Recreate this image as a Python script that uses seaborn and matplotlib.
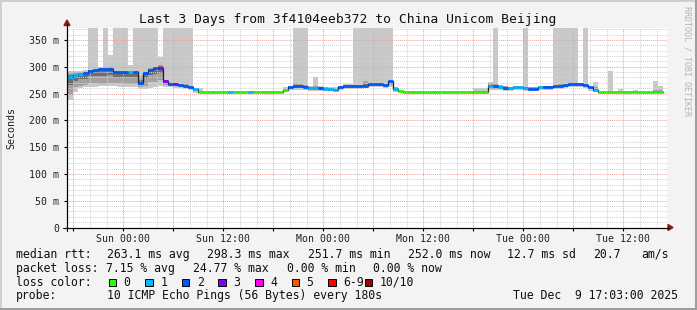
import numpy as np
import pandas as pd
import matplotlib
matplotlib.use("Agg")
import matplotlib.pyplot as plt
import seaborn as sns
from matplotlib.patches import Rectangle, Polygon
from matplotlib.lines import Line2D

# ---------------- data (36-minute bins, first bin starts Sat 16:48) ----------------
bin_start = "2025-12-06 16:48"
bin_minutes = 36
n_bins = 120

median_ms = [
    279, 280, 284, 286, 288, 293, 294, 295, 296, 296,
    291, 290, 290, 290, 290, 269, 289, 294, 297, 298,
    273, 268, 267, 266, 265, 263, 258, 253, 253, 253,
    253, 253, 253, 253, 253, 253, 253, 253, 253, 253,
    253, 253, 253, 253, 256, 263, 264, 264, 263, 261,
    260, 260, 259, 258, 257, 262, 264, 264, 264, 264,
    265, 267, 267, 267, 266, 273, 258, 254, 253, 253,
    253, 252, 252, 253, 253, 253, 253, 253, 253, 253,
    253, 253, 253, 253, 253, 264, 264, 263, 261, 260,
    262, 262, 261, 258, 258, 262, 263, 263, 264, 265,
    266, 268, 268, 268, 266, 262, 257, 253, 253, 253,
    253, 253, 253, 253, 253, 253, 253, 253, 253, 253,
]
loss_count = [
    1, 1, 1, 1, 2, 2, 2, 2, 2, 2,
    2, 2, 2, 1, 2, 2, 2, 2, 2, 3,
    3, 2, 3, 2, 2, 2, 1, 0, 0, 0,
    0, 0, 0, 1, 0, 0, 0, 1, 0, 0,
    0, 0, 0, 0, 0, 2, 2, 2, 2, 1,
    1, 2, 1, 1, 1, 2, 2, 2, 2, 2,
    2, 2, 2, 2, 2, 2, 1, 0, 0, 0,
    0, 0, 0, 0, 0, 0, 0, 0, 0, 0,
    0, 0, 0, 0, 0, 1, 2, 1, 2, 1,
    1, 1, 1, 2, 2, 1, 2, 2, 2, 2,
    2, 2, 2, 2, 2, 2, 1, 0, 0, 0,
    0, 0, 0, 0, 0, 0, 0, 0, 0, 0,
]
ping_min = [
    236, 238, 253, 260, 262, 262, 262, 264, 265, 265,
    264, 262, 262, 262, 263, 259, 258, 260, 262, 265,
    262, 262, 261, 260, 259, 257, 251, 251, 252, 252,
    252, 252, 252, 252, 252, 252, 252, 252, 252, 252,
    252, 252, 252, 252, 252, 256, 256, 256, 256, 255,
    254, 254, 254, 254, 254, 256, 259, 259, 259, 259,
    260, 262, 262, 262, 261, 262, 253, 252, 252, 252,
    252, 251, 251, 252, 252, 252, 252, 252, 252, 252,
    252, 252, 252, 252, 252, 256, 257, 256, 255, 255,
    256, 256, 255, 254, 254, 256, 257, 257, 258, 259,
    260, 262, 262, 262, 260, 255, 252, 252, 252, 252,
    252, 252, 252, 252, 252, 252, 252, 252, 252, 252,
]
ping_q_low = [
    245, 250, 262, 265, 266, 269, 269, 268, 268, 270,
    270, 270, 268, 268, 268, 263, 265, 272, 272, 275,
    266, 265, 264, 263, 262, 260, 254, 252, 252.5, 252.5,
    252.5, 252.5, 252.5, 252.5, 252.5, 252.5, 252.5, 252.5, 252.5, 252.5,
    252.5, 252.5, 252.5, 252.5, 253, 258, 260, 260, 259, 257,
    256, 256, 256, 255, 255, 258, 261, 261, 261, 261,
    262, 264, 264, 264, 263, 266, 255, 252.5, 252.5, 252.5,
    252.5, 251.5, 251.5, 252.5, 252.5, 252.5, 252.5, 252.5, 252.5, 252.5,
    252.5, 252.5, 252.5, 252.5, 252.5, 259, 259, 259, 257, 257,
    258, 258, 257, 256, 256, 258, 259, 259, 261, 262,
    262, 264, 264, 264, 262, 258, 254, 252.5, 252.5, 252.5,
    252.5, 252.5, 252.5, 252.5, 252.5, 252.5, 252.5, 252.5, 252.5, 252.5,
]
ping_q_high = [
    288, 289, 290, 290, 291, 294, 296, 297, 298, 299,
    293, 292, 292, 292, 292, 283, 291, 297, 300, 304,
    276, 270, 269, 268, 267, 265, 261, 255, 253.5, 253.5,
    253.5, 253.5, 253.5, 253.5, 253.5, 253.5, 253.5, 253.5, 253.5, 253.5,
    253.5, 253.5, 253.5, 253.5, 258, 265, 270, 268, 266, 263,
    264, 263, 262, 261, 261, 264, 266, 266, 266, 266,
    273, 269, 269, 269, 268, 274, 262, 255, 253.5, 253.5,
    253.5, 252.5, 252.5, 253.5, 253.5, 253.5, 253.5, 253.5, 253.5, 253.5,
    253.5, 253.5, 255, 255, 255, 270, 268, 266, 264, 263,
    264, 264, 263, 262, 262, 264, 265, 265, 266, 267,
    268, 270, 270, 270, 268, 264, 262, 253.5, 253.5, 254,
    253.5, 254, 253.5, 253.5, 254, 253.5, 253.5, 253.5, 256, 256,
]
ping_max = [
    291, 292, 293, 293, 294, 400, 400, 300, 400, 322,
    400, 400, 400, 303, 400, 400, 400, 400, 400, 318,
    400, 400, 400, 400, 400, 400, 261, 261, 254, 254,
    254, 254, 254, 254, 254, 254, 254, 254, 254, 254,
    254, 254, 254, 254, 262, 265, 400, 400, 400, 265,
    280, 264, 262, 262, 262, 264, 268, 268, 400, 400,
    400, 400, 400, 400, 400, 400, 262, 256, 254, 254,
    254, 253, 253, 254, 254, 254, 254, 254, 254, 254,
    254, 254, 261, 261, 261, 272, 400, 266, 264, 263,
    265, 265, 400, 262, 262, 264, 265, 265, 400, 400,
    400, 400, 400, 270, 400, 264, 272, 254, 254, 292,
    254, 259, 254, 254, 256, 254, 254, 254, 273, 264,
]

loss_labels = ["0", "1", "2", "3", "4", "5", "6-9", "10/10"]
loss_colors = ["#26ff00", "#00b8ff", "#0059ff", "#7e00ff", "#ff00ff",
               "#ff5500", "#ff0000", "#a10000"]

x_tick_hours = [0, 12, 24, 36, 48, 60]
x_tick_labels = ["Sun 00:00", "Sun 12:00", "Mon 00:00", "Mon 12:00",
                 "Tue 00:00", "Tue 12:00"]
y_tick_values = [0, 50, 100, 150, 200, 250, 300, 350]
y_tick_labels = ["0", "50 m", "100 m", "150 m", "200 m", "250 m", "300 m", "350 m"]

title = "Last 3 Days from 3f4104eeb372 to China Unicom Beijing"
stats_rtt = [("median rtt:", 16), ("263.1 ms avg", 107.0), ("298.3 ms max", 207.3),
             ("251.7 ms min", 308.0), ("252.0 ms now", 407.7), ("12.7 ms sd", 506.7),
             ("20.7", 593.3), ("am/s", 641.7)]
stats_loss = [("packet loss:", 16), ("7.15 % avg", 106.5), ("24.77 % max", 193.0),
              ("0.00 % min", 286.8), ("0.00 % now", 373.0)]
probe_text = [("probe:", 16), ("10 ICMP Echo Pings (56 Bytes) every 180s", 107.0),
              ("Tue Dec  9 17:03:00 2025", 513.3)]

# ---------------- figure ----------------
sns.set_theme(style="white")
plt.rcParams["font.family"] = ["DejaVu Sans Mono", "DejaVu Sans"]

W, H = 697, 310
fig = plt.figure(figsize=(W / 100, H / 100), dpi=100, facecolor="#f3f3f3")


def fx(px):
    return px / W


def fy(py):
    return 1 - py / H


ax = fig.add_axes([fx(67), fy(227.5), 600 / W, 200 / H])
ax.set_facecolor("white")

times = pd.date_range(bin_start, periods=n_bins, freq=f"{bin_minutes}min")
sun0 = pd.Timestamp("2025-12-07 00:00")
x = np.asarray((times - sun0) / pd.Timedelta(hours=1), dtype=float)
step_h = bin_minutes / 60
xe = np.append(x, x[-1] + step_h)


def ext(a):
    a = np.asarray(a, dtype=float)
    return np.append(a, a[-1])


med = np.asarray(median_ms, float)
qlo = np.asarray(ping_q_low, float)
qhi = np.asarray(ping_q_high, float)

ax.fill_between(xe, ext(ping_min), ext(ping_max), step="post",
                color="#c8c8c8", lw=0, zorder=1)
ax.fill_between(xe, ext(qlo), ext(qhi), step="post",
                color="#a2a2a2", lw=0, zorder=1.2)
ax.fill_between(xe, ext(med - 0.45 * (med - qlo)), ext(med + 0.45 * (qhi - med)),
                step="post", color="#6e6e6e", lw=0, zorder=1.4)

XMIN, XMAX = -6.76, 65.24
YMAX = 373.3
ax.set_xlim(XMIN, XMAX)
ax.set_ylim(0, YMAX)

# grid (drawn over the smoke like rrdtool)
dot = (0, (1, 1))
for h in np.arange(-6, 66, 2):
    if h % 6 == 0:
        continue
    ax.axvline(h, color="#d0d0d0", lw=0.7, ls=dot, zorder=2)
for v in np.arange(10, 371, 10):
    if v % 50 == 0:
        continue
    ax.axhline(v, color="#d0d0d0", lw=0.7, ls=dot, zorder=2)
for h in np.arange(-6, 66, 6):
    ax.axvline(h, color="#eba2a2", lw=0.7, ls=dot, zorder=2.1)
for v in np.arange(50, 371, 50):
    ax.axhline(v, color="#eba2a2", lw=0.7, ls=dot, zorder=2.1)

# median line
df = pd.DataFrame({"hour": xe, "median": ext(med)})
sns.lineplot(data=df, x="hour", y="median", drawstyle="steps-post",
             estimator=None, color="#202020", lw=0.9, ax=ax, zorder=3,
             legend=False)
seg_colors = [loss_colors[min(c, 6) if c < 10 else 7] for c in loss_count]
ax.hlines(med, x, x + step_h, colors=seg_colors, lw=2.0, zorder=4)

ax.set_xlabel("")
ax.set_ylabel("")
ax.set_xticks(x_tick_hours)
ax.set_xticklabels(x_tick_labels)
ax.set_xticks(np.arange(-6, 66, 6), minor=True)
ax.set_yticks(y_tick_values)
ax.set_yticklabels(y_tick_labels)
ax.tick_params(axis="both", which="major", labelsize=7.1, length=2.5, width=0.8,
               color="black", direction="out", pad=3, labelcolor="#202020")
ax.tick_params(axis="x", which="major", pad=2.5)
ax.tick_params(axis="x", which="minor", length=2.5, width=0.8, color="black",
               direction="out", bottom=True)
ax.tick_params(bottom=True, left=True)
for s in ["top", "right"]:
    ax.spines[s].set_visible(False)
for s in ["left", "bottom"]:
    ax.spines[s].set_color("black")
    ax.spines[s].set_linewidth(0.8)
    ax.spines[s].set_zorder(5)

# axis extensions and arrows (figure pixel coords)
arrow_c = "#8b1a1a"
fig.add_artist(Line2D([fx(63), fx(669)], [fy(227.5), fy(227.5)], color="black",
                      lw=0.8, transform=fig.transFigure))
fig.add_artist(Line2D([fx(67), fx(67)], [fy(231), fy(24)], color="black",
                      lw=0.8, transform=fig.transFigure))
fig.add_artist(Polygon([[fx(668), fy(224.5)], [fx(668), fy(230.5)], [fx(673), fy(227.5)]],
                       closed=True, color=arrow_c, transform=fig.transFigure))
fig.add_artist(Polygon([[fx(64), fy(25.5)], [fx(70), fy(25.5)], [fx(67), fy(20)]],
                       closed=True, color=arrow_c, transform=fig.transFigure))

# texts
fig.text(fx(348), fy(19.3), title, ha="center", va="center", size=9.35,
         color="#101010")
fig.text(fx(11), fy(128), "Seconds", rotation=90, ha="center", va="center",
         size=7.2, color="#202020")
fig.text(fx(687.5), fy(61), "RRDTOOL / TOBI OETIKER", rotation=270, ha="center",
         va="center", size=6.0, color="#b4b4b4")

leg_size = 8.3
for txt, px in stats_rtt:
    fig.text(fx(px), fy(254.3), txt, ha="left", va="center", size=leg_size, color="#101010")
for txt, px in stats_loss:
    fig.text(fx(px), fy(268.3), txt, ha="left", va="center", size=leg_size, color="#101010")
fig.text(fx(16), fy(282.3), "loss color:", ha="left", va="center", size=leg_size,
         color="#101010")
for i, (lab, col) in enumerate(zip(loss_labels, loss_colors)):
    bx = 108.6 + i * 36.6
    fig.add_artist(Rectangle((fx(bx), fy(286.3)), 7.6 / W, 7.6 / H, facecolor=col,
                             edgecolor="black", lw=0.7, transform=fig.transFigure))
    fig.text(fx(bx + 15), fy(282.3), lab, ha="left", va="center", size=leg_size,
             color="#101010")
for txt, px in probe_text:
    fig.text(fx(px), fy(295.7), txt, ha="left", va="center", size=leg_size, color="#101010")

# 3D-style frame
fig.add_artist(Line2D([0, 1], [fy(0.7), fy(0.7)], color="#cfcfcf", lw=1.4,
                      transform=fig.transFigure))
fig.add_artist(Line2D([fx(0.7), fx(0.7)], [0, 1], color="#cfcfcf", lw=1.4,
                      transform=fig.transFigure))
fig.add_artist(Line2D([0, 1], [fy(308.5), fy(308.5)], color="#9e9e9e", lw=2.2,
                      transform=fig.transFigure))
fig.add_artist(Line2D([fx(695.5), fx(695.5)], [0, 1], color="#9e9e9e", lw=2.2,
                      transform=fig.transFigure))

fig.savefig("out.png", dpi=100, facecolor=fig.get_facecolor())
